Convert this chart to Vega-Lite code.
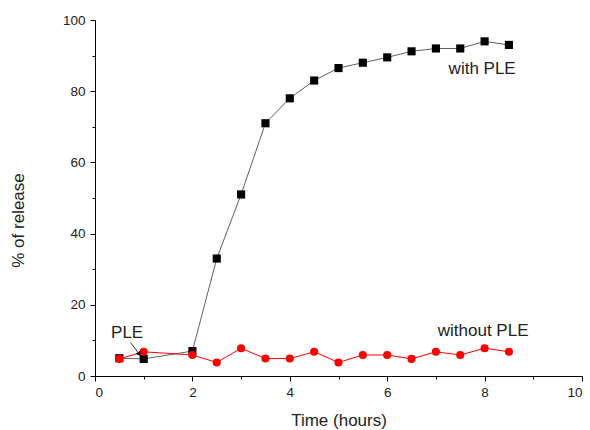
{
  "$schema": "https://vega.github.io/schema/vega-lite/v6.json",
  "autosize": {"type": "none"},
  "width": 487,
  "height": 356,
  "padding": {"left": 95, "top": 20, "right": 8, "bottom": 54},
  "background": "white",
  "config": {
    "view": {"stroke": null},
    "font": "Liberation Sans",
    "axis": {"grid": false, "domainColor": "black", "tickColor": "black", "labelColor": "#222", "titleColor": "#222", "labelFont": "Liberation Sans", "titleFont": "Liberation Sans", "titleFontWeight": "normal", "labelFontSize": 13.5, "titleFontSize": 17, "domainWidth": 1, "tickWidth": 1}
  },
  "datasets": {
    "release": [
      {"t": 0.5, "pct": 5, "series": "with PLE"},
      {"t": 1, "pct": 4.8, "series": "with PLE"},
      {"t": 2, "pct": 7, "series": "with PLE"},
      {"t": 2.5, "pct": 33, "series": "with PLE"},
      {"t": 3, "pct": 51, "series": "with PLE"},
      {"t": 3.5, "pct": 71, "series": "with PLE"},
      {"t": 4, "pct": 78, "series": "with PLE"},
      {"t": 4.5, "pct": 83, "series": "with PLE"},
      {"t": 5, "pct": 86.5, "series": "with PLE"},
      {"t": 5.5, "pct": 88, "series": "with PLE"},
      {"t": 6, "pct": 89.5, "series": "with PLE"},
      {"t": 6.5, "pct": 91.2, "series": "with PLE"},
      {"t": 7, "pct": 92, "series": "with PLE"},
      {"t": 7.5, "pct": 92, "series": "with PLE"},
      {"t": 8, "pct": 94, "series": "with PLE"},
      {"t": 8.5, "pct": 93, "series": "with PLE"},
      {"t": 0.5, "pct": 4.8, "series": "without PLE"},
      {"t": 1, "pct": 6.8, "series": "without PLE"},
      {"t": 2, "pct": 5.9, "series": "without PLE"},
      {"t": 2.5, "pct": 3.8, "series": "without PLE"},
      {"t": 3, "pct": 7.8, "series": "without PLE"},
      {"t": 3.5, "pct": 4.9, "series": "without PLE"},
      {"t": 4, "pct": 4.9, "series": "without PLE"},
      {"t": 4.5, "pct": 6.8, "series": "without PLE"},
      {"t": 5, "pct": 3.8, "series": "without PLE"},
      {"t": 5.5, "pct": 5.9, "series": "without PLE"},
      {"t": 6, "pct": 5.9, "series": "without PLE"},
      {"t": 6.5, "pct": 4.8, "series": "without PLE"},
      {"t": 7, "pct": 6.8, "series": "without PLE"},
      {"t": 7.5, "pct": 5.9, "series": "without PLE"},
      {"t": 8, "pct": 7.8, "series": "without PLE"},
      {"t": 8.5, "pct": 6.8, "series": "without PLE"}
    ],
    "labels": [
      {"t": 7.95, "pct": 86.3, "text": "with PLE"},
      {"t": 7.97, "pct": 12.7, "text": "without PLE"},
      {"t": 0.66, "pct": 12.1, "text": "PLE"}
    ],
    "arrow": [
      {"t": 0.73, "pct": 9.4, "t2": 0.91, "pct2": 6.1}
    ]
  },
  "resolve": {"axis": {"x": "independent", "y": "independent"}, "scale": {"color": "independent"}},
  "layer": [
    {
      "data": {"name": "release"},
      "mark": {"type": "line", "strokeWidth": 1},
      "encoding": {
        "x": {"field": "t", "type": "quantitative", "scale": {"domain": [0, 10], "nice": false}, "axis": {"values": [0, 2, 4, 6, 8, 10], "title": "Time (hours)", "tickSize": 5, "labelPadding": 4, "titleY": 44, "titleBaseline": "middle"}},
        "y": {"field": "pct", "type": "quantitative", "scale": {"domain": [0, 100], "nice": false}, "axis": {"values": [0, 20, 40, 60, 80, 100], "title": "% of release", "tickSize": 5, "labelPadding": 5, "titleX": -77, "titleY": 200, "titleBaseline": "middle"}},
        "color": {"field": "series", "type": "nominal", "scale": {"domain": ["with PLE", "without PLE"], "range": ["#606060", "#ff0000"]}, "legend": null}
      }
    },
    {
      "data": {"name": "release"},
      "mark": {"type": "point", "filled": true, "opacity": 1, "size": 66},
      "encoding": {
        "x": {"field": "t", "type": "quantitative", "axis": {"values": [1, 3, 5, 7, 9], "labels": false, "domain": false, "title": null, "tickSize": 3, "orient": "bottom"}},
        "y": {"field": "pct", "type": "quantitative", "axis": {"values": [10, 30, 50, 70, 90], "labels": false, "domain": false, "title": null, "tickSize": 3, "orient": "left"}},
        "shape": {"field": "series", "type": "nominal", "scale": {"domain": ["with PLE", "without PLE"], "range": ["square", "circle"]}, "legend": null},
        "color": {"field": "series", "type": "nominal", "scale": {"domain": ["with PLE", "without PLE"], "range": ["#000000", "#ff0000"]}, "legend": null}
      }
    },
    {
      "data": {"name": "labels"},
      "mark": {"type": "text", "fontSize": 17, "align": "center", "baseline": "middle", "color": "#222"},
      "encoding": {
        "x": {"field": "t", "type": "quantitative", "axis": null},
        "y": {"field": "pct", "type": "quantitative", "axis": null},
        "text": {"field": "text"}
      }
    },
    {
      "data": {"name": "arrow"},
      "mark": {"type": "rule", "color": "#333", "strokeWidth": 1},
      "encoding": {
        "x": {"field": "t", "type": "quantitative", "axis": null},
        "y": {"field": "pct", "type": "quantitative", "axis": null},
        "x2": {"field": "t2"},
        "y2": {"field": "pct2"}
      }
    },
    {
      "data": {"name": "arrow"},
      "mark": {"type": "point", "shape": "triangle-down", "filled": true, "color": "#000", "opacity": 1, "size": 30, "angle": 327},
      "encoding": {
        "x": {"field": "t2", "type": "quantitative", "axis": null},
        "y": {"field": "pct2", "type": "quantitative", "axis": null}
      }
    }
  ]
}
